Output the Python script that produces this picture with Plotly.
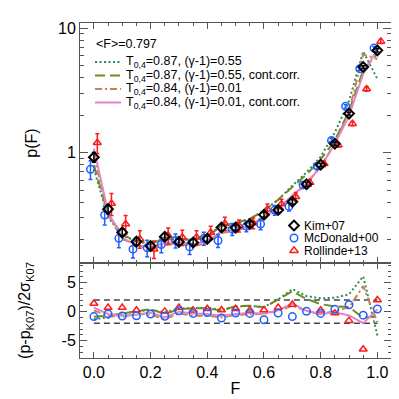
import math
import plotly.graph_objects as go

# ---------------- data ----------------
F = [0.00, 0.05, 0.10, 0.15, 0.20, 0.25, 0.30, 0.35, 0.40, 0.45, 0.50,
     0.55, 0.60, 0.65, 0.70, 0.75, 0.80, 0.85, 0.90, 0.95, 1.00]

kim_p = [0.92, 0.352, 0.229, 0.193, 0.178, 0.211, 0.192, 0.190, 0.203, 0.251, 0.250,
         0.267, 0.317, 0.346, 0.403, 0.558, 0.800, 1.18, 2.06, 4.87, 6.63]
kim_relerr = [0.09, 0.08, 0.07, 0.07, 0.07, 0.065, 0.06, 0.06, 0.06, 0.055, 0.05,
              0.05, 0.045, 0.045, 0.04, 0.035, 0.03, 0.03, 0.025, 0.025, 0.03]

mcd_p = [0.735, 0.316, 0.205, 0.168, 0.172, 0.183, 0.197, 0.175, 0.205, 0.197, 0.243,
         0.257, 0.267, 0.346, 0.370, 0.551, 0.778, 1.25, 2.36, 4.73, 6.92]
mcd_relerr = [0.17, 0.17, 0.16, 0.15, 0.15, 0.14, 0.13, 0.13, 0.12, 0.12, 0.11,
              0.10, 0.10, 0.09, 0.08, 0.06, 0.05, 0.04, 0.03, 0.03, 0.03]

rol_p = [1.20, 0.391, 0.267, 0.203, 0.168, 0.216, 0.209, 0.209, 0.229, 0.270, 0.259,
         0.272, 0.352, 0.388, 0.443, 0.575, 0.814, 1.15, 1.71, 3.25, 7.83]
rol_relerr = [0.18, 0.20, 0.17, 0.16, 0.16, 0.15, 0.14, 0.13, 0.12, 0.12, 0.11,
              0.10, 0.10, 0.09, 0.08, 0.06, 0.05, 0.04, 0.04, 0.04, 0.04]

# normalised deviations (p - p_K07) / 2 sigma_K07
mcd_dev = [-0.85, -0.4, -0.75, -0.7, -0.4, -0.8, 0.15, -0.3, -0.15, -1.1, -0.25,
           -0.3, -1.4, -0.25, -0.85, 0.05, -0.3, 0.4, 1.2, -0.6, 0.45]
rol_dev = [1.4, 0.7, 0.7, 0.25, None, 0.05, 0.7, 0.25, 0.5, 0.3, 0.5,
           0.25, 0.3, 0.7, 1.25, None, 0.25, -0.25, -1.55, -6.5, 2.0]

# models: p(F)
m1_p = [0.741, 0.303, 0.217, 0.194, 0.184, 0.209, 0.202, 0.201, 0.217, 0.259, 0.271,
        0.294, 0.342, 0.419, 0.544, 0.694, 0.93, 1.45, 2.60, 6.50, 3.90]
m2_p = [0.796, 0.318, 0.220, 0.194, 0.188, 0.202, 0.200, 0.201, 0.215, 0.256, 0.274,
        0.294, 0.341, 0.419, 0.530, 0.668, 0.883, 1.254, 2.16, 4.60, 6.26]
m3_p = [0.948, 0.318, 0.202, 0.184, 0.167, 0.181, 0.186, 0.177, 0.189, 0.226, 0.236,
        0.254, 0.304, 0.351, 0.439, 0.566, 0.768, 1.192, 2.15, 6.15, 5.65]
m4_p = [1.08, 0.332, 0.208, 0.180, 0.175, 0.188, 0.192, 0.184, 0.195, 0.233, 0.240,
        0.260, 0.307, 0.355, 0.454, 0.566, 0.774, 1.172, 1.98, 4.29, 6.79]

# models: deviations
m1_dev = [-1.3, -1.0, -0.4, 0.05, 0.3, -0.1, 0.5, 0.6, 0.7, 0.3, 0.85,
          1.0, 0.8, 2.1, 3.9, 2.7, 2.3, 2.4, 3.0, 6.1, -4.1]
m2_dev = [-0.9, -0.7, -0.3, 0.05, 0.45, -0.4, 0.4, 0.6, 0.6, 0.2, 0.95,
          1.0, 0.75, 2.1, 3.5, 2.2, 1.3, 0.9, 0.8, -1.1, -0.7]
m3_dev = [0.2, -0.7, -0.9, -0.4, -0.5, -1.3, -0.3, -0.7, -0.7, -1.0, -0.55,
          -0.5, -0.4, 0.15, 1.0, 0.15, -0.5, 0.15, 0.75, 4.4, -1.85]
m4_dev = [0.7, -0.4, -0.7, -0.55, -0.15, -1.0, 0.0, -0.3, -0.4, -0.7, -0.4,
          -0.25, -0.3, 0.25, 1.4, 0.15, -0.4, -0.1, -0.65, -2.0, 0.4]

model_labels = ["T<sub>0,4</sub>=0.87, (γ-1)=0.55",
                "T<sub>0,4</sub>=0.87, (γ-1)=0.55, cont.corr.",
                "T<sub>0,4</sub>=0.84, (γ-1)=0.01",
                "T<sub>0,4</sub>=0.84, (γ-1)=0.01, cont.corr."]
data_labels = ["Kim+07", "McDonald+00", "Rollinde+13"]
mean_label = "&lt;F&gt;=0.797"
band_x = [0.0, 1.0]
band_y = [-2, 2]

x_ticks = [0.0, 0.2, 0.4, 0.6, 0.8, 1.0]
x_ticktext = ["0.0", "0.2", "0.4", "0.6", "0.8", "1.0"]
p_ticks = [1, 10]
p_minor = [0.2, 0.3, 0.4, 0.5, 0.6, 0.7, 0.8, 0.9, 2, 3, 4, 5, 6, 7, 8, 9]
dev_ticks = [-5, 0, 5]

# ---------------- style ----------------
FONT = "Liberation Sans"
C_M = ["#2e8b57", "#6b8e23", "#c98257", "#e384c6"]
D_M = ["2px,2.5px", "10px,5px", "7px,3px,2px,3px", "solid"]
C_K, C_MCD, C_ROL = "#000000", "#2060ff", "#ff1a1a"
DX = 0.012
AX = "#555555"

W = H = 399
L, R, T, B = 72, 16, 15, 49
split = 255  # pixel row where the two panels meet
dom_split = (H - B - split) / (H - T - B)

fig = go.Figure()

model_p = [m1_p, m2_p, m3_p, m4_p]
model_dev = [m1_dev, m2_dev, m3_dev, m4_dev]

# ----- main panel (x2, y2)
for i in range(4):
    fig.add_trace(go.Scatter(x=F, y=model_p[i], mode="lines", xaxis="x2", yaxis="y2",
                             line=dict(color=C_M[i], width=2, dash=D_M[i]), showlegend=False))

def errs(p, rel):
    return [a * b for a, b in zip(p, rel)]

fig.add_trace(go.Scatter(x=[f + DX for f in F], y=rol_p, mode="markers", xaxis="x2", yaxis="y2",
                         marker=dict(symbol="triangle-up-open", size=7, color=C_ROL, line=dict(width=1.5)),
                         error_y=dict(type="data", array=errs(rol_p, rol_relerr), color=C_ROL, thickness=1.5, width=2),
                         showlegend=False))
fig.add_trace(go.Scatter(x=[f - DX for f in F], y=mcd_p, mode="markers", xaxis="x2", yaxis="y2",
                         marker=dict(symbol="circle-open", size=7.5, color=C_MCD, line=dict(width=1.5)),
                         error_y=dict(type="data", array=errs(mcd_p, mcd_relerr), color=C_MCD, thickness=1.5, width=2),
                         showlegend=False))
fig.add_trace(go.Scatter(x=F, y=kim_p, mode="markers", xaxis="x2", yaxis="y2",
                         marker=dict(symbol="diamond-open", size=7.5, color=C_K, line=dict(width=2)),
                         error_y=dict(type="data", array=errs(kim_p, kim_relerr), color=C_K, thickness=1.5, width=2),
                         showlegend=False))

# ----- bottom panel (x, y)
for yv in band_y:
    fig.add_trace(go.Scatter(x=band_x, y=[yv, yv], mode="lines", xaxis="x", yaxis="y",
                             line=dict(color="#444444", width=1.5, dash="6px,4px"), showlegend=False))
for i in range(4):
    fig.add_trace(go.Scatter(x=F, y=model_dev[i], mode="lines", xaxis="x", yaxis="y",
                             line=dict(color=C_M[i], width=2, dash=D_M[i]), showlegend=False))
fig.add_trace(go.Scatter(x=F, y=rol_dev, mode="markers", xaxis="x", yaxis="y",
                         marker=dict(symbol="triangle-up-open", size=7, color=C_ROL, line=dict(width=1.5)),
                         showlegend=False))
fig.add_trace(go.Scatter(x=F, y=mcd_dev, mode="markers", xaxis="x", yaxis="y",
                         marker=dict(symbol="circle-open", size=7.5, color=C_MCD, line=dict(width=1.5)),
                         showlegend=False))

# ----- legend drawn on a pixel-coordinate overlay axis (x3, y3)
ann = []
ann.append(dict(x=86, y=36, xref="x3", yref="y3", text=mean_label, showarrow=False,
                xanchor="left", yanchor="middle", font=dict(size=12.5, family=FONT, color="black")))
rows = [54, 67.5, 81, 94.5]
for i in range(4):
    fig.add_trace(go.Scatter(x=[87, 113], y=[rows[i], rows[i]], mode="lines", xaxis="x3", yaxis="y3",
                             line=dict(color=C_M[i], width=2, dash=D_M[i]), showlegend=False, hoverinfo="skip"))
    ann.append(dict(x=116, y=rows[i], xref="x3", yref="y3", text=model_labels[i], showarrow=False,
                    xanchor="left", yanchor="middle", font=dict(size=12.5, family=FONT, color="black")))
rows2 = [217.5, 230, 242.5]
syms = [("diamond-open", C_K, 2), ("circle-open", C_MCD, 1.5), ("triangle-up-open", C_ROL, 1.5)]
for i in range(3):
    s, c, w = syms[i]
    fig.add_trace(go.Scatter(x=[286], y=[rows2[i]], mode="markers", xaxis="x3", yaxis="y3",
                             marker=dict(symbol=s, size=7.5, color=c, line=dict(width=w)),
                             showlegend=False, hoverinfo="skip"))
    ann.append(dict(x=294, y=rows2[i], xref="x3", yref="y3", text=data_labels[i], showarrow=False,
                    xanchor="left", yanchor="middle", font=dict(size=12, family=FONT, color="black")))

tickfont = dict(size=16, family=FONT, color="black")
xcommon = dict(range=[-0.049, 1.048], tickvals=x_ticks, ticks="inside", ticklen=6, tickwidth=1,
               tickcolor=AX, showline=True, linecolor=AX, linewidth=1, mirror="ticks",
               showgrid=False, zeroline=False,
               minor=dict(dtick=0.05, tick0=0, ticks="inside", ticklen=3, tickcolor=AX, showgrid=False))

fig.update_layout(
    width=W, height=H, autosize=False,
    margin=dict(l=L, r=R, t=T, b=B),
    paper_bgcolor="white", plot_bgcolor="rgba(0,0,0,0)",
    font=dict(family=FONT, color="black"),
    showlegend=False,
    annotations=ann,
    xaxis=dict(domain=[0, 1], anchor="y", ticktext=x_ticktext, tickfont=tickfont,
               title=dict(text="F", font=dict(size=16, family=FONT), standoff=2), **xcommon),
    xaxis2=dict(domain=[0, 1], anchor="y2", matches="x", showticklabels=False, **xcommon),
    yaxis=dict(domain=[0, dom_split], anchor="x", range=[-8, 8.4], tickvals=dev_ticks,
               ticktext=[str(v) for v in dev_ticks], tickfont=tickfont,
               ticks="inside", ticklen=7, tickcolor=AX, showline=True, linecolor=AX, mirror="ticks",
               showgrid=False, zeroline=False,
               minor=dict(dtick=1, tick0=0, ticks="inside", ticklen=3, tickcolor=AX, showgrid=False),
               title=dict(text="(p-p<sub>K07</sub>)/2σ<sub>K07</sub>", font=dict(size=16, family=FONT), standoff=26)),
    yaxis2=dict(domain=[dom_split, 1], anchor="x2", type="log",
                range=[math.log10(0.13), math.log10(11)], tickvals=p_ticks,
                ticktext=[str(v) for v in p_ticks], tickfont=tickfont,
                ticks="inside", ticklen=8, tickcolor=AX, showline=True, linecolor=AX, mirror="ticks",
                showgrid=False, zeroline=False,
                minor=dict(tickvals=p_minor, ticks="inside", ticklen=4, tickcolor=AX, showgrid=False),
                title=dict(text="p(F)", font=dict(size=16, family=FONT), standoff=16)),
    xaxis3=dict(domain=[0, 1], anchor="y3", range=[L, W - R], visible=False, fixedrange=True),
    yaxis3=dict(domain=[0, 1], anchor="x3", range=[H - B, T], visible=False, fixedrange=True),
)

fig.write_html("out.html")
